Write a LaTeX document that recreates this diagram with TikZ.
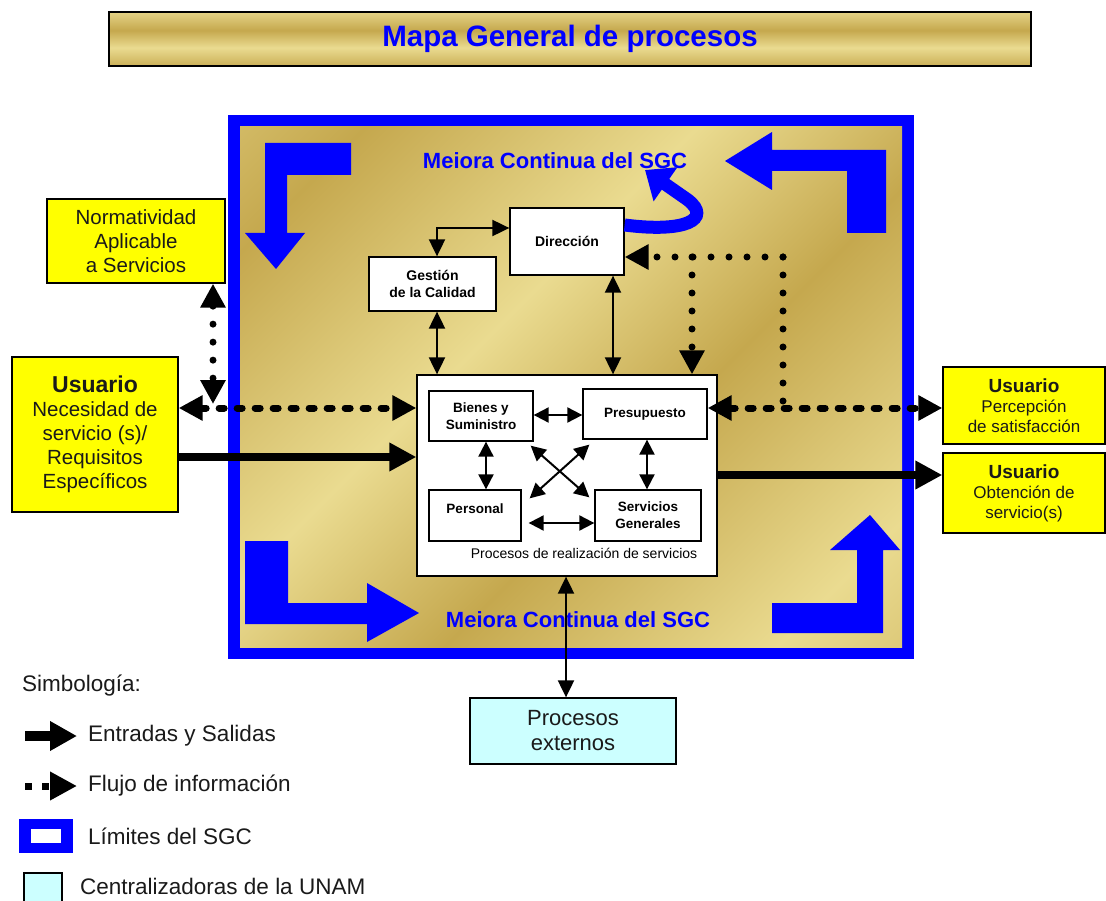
\documentclass[tikz,border=0pt]{standalone}
\usepackage{fontspec}
\setmainfont{Liberation Sans}
\usetikzlibrary{arrows.meta,calc}
\definecolor{goldL}{HTML}{EADB90}
\definecolor{goldD}{HTML}{C5A84E}
\definecolor{sgcblue}{HTML}{0000FF}
\definecolor{ylw}{HTML}{FFFF00}
\definecolor{cyn}{HTML}{CCFFFF}
\definecolor{txt}{HTML}{1A1A1A}
\pgfdeclarehorizontalshading{goldbands}{100bp}{color(0bp)=(goldL); color(22bp)=(goldD); color(42bp)=(goldL); color(58bp)=(goldD); color(78bp)=(goldL); color(100bp)=(goldD)}
\newcommand{\fsz}[2]{\fontsize{#1}{#2}\selectfont}
\tikzset{
  sT/.tip={Triangle[length=15pt,width=15pt]},
  mT/.tip={Triangle[length=17pt,width=16pt]},
  bT/.tip={Triangle[length=27pt,width=27pt]},
  iT/.tip={Triangle[length=24pt,width=24pt]},
  box/.style={draw=black, line width=1.3pt, inner sep=0pt, align=center},
  ybox/.style={box, fill=ylw, text=txt},
  wbox/.style={box, fill=white, font=\bfseries\fsz{13.5}{17}},
  thinarr/.style={line width=2pt, {sT}-{sT}},
  medarr/.style={line width=2pt, {mT}-{mT}},
  thickio/.style={line width=8pt, -{bT}},
  infodots/.style={line width=7pt, dash pattern=on 0pt off 18pt, line cap=round},
  infodash/.style={line width=7pt, dash pattern=on 5pt off 13pt, line cap=round},
  meiora/.style={font=\bfseries\fsz{22}{26}, text=sgcblue, inner sep=0pt},
  legtext/.style={font=\fsz{22.5}{26}, text=txt, inner sep=0pt, anchor=west},
  cornerarrow/.style={fill=sgcblue}
}
\begin{document}
\begin{tikzpicture}[x=1pt,y=-1pt]
\useasboundingbox (0,0) rectangle (1106,901);
\fill[white] (0,0) rectangle (1106,901);

% title
\node[box, line width=1.5pt, shade, shading=goldbands, shading angle=90,
      minimum width=922pt, minimum height=54pt,
      font=\bfseries\fsz{29.5}{34}, text=sgcblue] (title) at (570,39) {Mapa General de procesos};

% SGC frame
\fill[sgcblue] (228,115) rectangle (914,659);
\shade[shading=goldbands, shading angle=-45] (240,127) rectangle (902,647);

% corner arrows
\fill[cornerarrow] (351,143) -- (265,143) -- (265,233) -- (245,233) -- (276,269)
   -- (305,233) -- (287,233) -- (287,175) -- (351,175) -- cycle;
\fill[cornerarrow] (725,161) -- (772,132) -- (772,150) -- (886,150) -- (886,233)
   -- (847,233) -- (847,171) -- (772,171) -- (772,190) -- cycle;
\fill[cornerarrow] (245,541) -- (288,541) -- (288,603) -- (367,603) -- (367,583)
   -- (419,613) -- (367,642) -- (367,624) -- (245,624) -- cycle;
\fill[cornerarrow] (870,515) -- (900,550) -- (883,550) -- (883,633) -- (772,633)
   -- (772,603) -- (857,603) -- (857,550) -- (830,550) -- cycle;

\node[meiora] (mTop) at (555,161) {Meiora Continua del SGC};
\node[meiora] (mBot) at (578,620) {Meiora Continua del SGC};

% boxes inside frame
\node[box, fill=white, minimum width=114pt, minimum height=67pt, font=\bfseries\fsz{14}{17}] (dir) at (567,241.5) {Dirección};
\node[box, fill=white, minimum width=127pt, minimum height=54pt, font=\bfseries\fsz{14}{17}] (gc) at (432.5,284) {Gestión\\de la Calidad};
\node[box, fill=white, minimum width=300pt, minimum height=201pt] (big) at (567,475.5) {};
\node[wbox, minimum width=104pt, minimum height=50pt] (bs) at (481,416) {Bienes y\\Suministro};
\node[wbox, minimum width=124pt, minimum height=50pt] (pres) at (645,414) {Presupuesto};
\node[wbox, minimum width=92pt, minimum height=51pt, text depth=14pt] (pers) at (475,515.5) {Personal};
\node[wbox, minimum width=106pt, minimum height=51pt] (sg) at (648,515.5) {Servicios\\Generales};
\node[inner sep=0pt, font=\fsz{14}{17}] (bigL) at (584,553) {Procesos de realización de servicios};

% curved blue arrow
\draw[sgcblue, line width=13pt, -{Triangle[length=25pt,width=40pt]}]
  (dir.east |- 0,225) .. controls (686,233) and (712,219) .. (688,200) -- (645,170);

% outside boxes
\node[ybox, minimum width=178pt, minimum height=84pt, font=\fsz{20.5}{24}] (norm) at (136,241) {Normatividad\\Aplicable\\a Servicios};
\node[ybox, minimum width=166pt, minimum height=155pt, font=\fsz{20.5}{24}] (uL) at (95,434.5)
   {{\bfseries\fsz{23}{26}Usuario}\\Necesidad de\\servicio (s)/\\Requisitos\\Específicos};
\node[ybox, minimum width=162pt, minimum height=77pt, font=\fsz{17}{20}] (uP) at (1024,405.5)
   {{\bfseries\fsz{19}{21}Usuario}\\Percepción\\de satisfacción};
\node[ybox, minimum width=162pt, minimum height=80pt, font=\fsz{17}{20}] (uO) at (1024,493)
   {{\bfseries\fsz{19}{21}Usuario}\\Obtención de\\servicio(s)};
\node[box, fill=cyn, text=txt, minimum width=206pt, minimum height=66pt, font=\fsz{22}{25}] (pe) at (573,731) {Procesos\\externos};

% helper coordinates
\coordinate (e1) at (437,228);
\coordinate (xDB) at (613,0);
\coordinate (yBP) at (0,415);
\coordinate (xBP) at (486,0);
\coordinate (xPS) at (647,0);
\coordinate (yPS) at (0,523);
\coordinate (yInfo) at (0,408);
\coordinate (yIn) at (0,457);
\coordinate (yOut) at (0,475);
\coordinate (xNorm) at (213,0);
\coordinate (xPE) at (566,0);
\coordinate (jTop) at (783,257);
\coordinate (jBr) at (692,257);

% thin connectors
\draw[medarr] (gc.north -| e1) -- (e1) -- (dir.west |- e1);
\draw[medarr] (gc.south -| e1) -- (big.north -| e1);
\draw[medarr] (dir.south -| xDB) -- (big.north -| xDB);
\draw[thinarr] (bs.east |- yBP) -- (pres.west |- yBP);
\draw[thinarr] (bs.south -| xBP) -- (pers.north -| xBP);
\draw[thinarr] (pres.south -| xPS) -- (sg.north -| xPS);
\draw[thinarr] ($(pers.east |- yPS)+(7,0)$) -- (sg.west |- yPS);
\draw[thinarr] ($(bs.south east)+(-3,4)$) -- ($(sg.north west)+(-5,8)$);
\draw[thinarr] ($(pres.south west)+(7,5)$) -- ($(pers.north east)+(8,9)$);
\draw[medarr] (big.south -| xPE) -- (pe.north -| xPE);

% inputs / outputs
\draw[thickio] (uL.east |- yIn) -- (big.west |- yIn);
\draw[thickio] (big.east |- yOut) -- (uO.west |- yOut);

% information flow
\draw[infodash, {iT}-{iT}] (uL.east |- yInfo) -- (big.west |- yInfo);
\draw[infodots, {iT}-{iT}] (norm.south -| xNorm) -- ($(xNorm |- yInfo)+(0,-4)$);
\draw[infodash, {iT}-{iT}] (pres.east |- yInfo) -- (uP.west |- yInfo);
\draw[infodots, -{iT}] (jTop) -- (dir.east |- jTop);
\draw[infodots] (jTop) -- (jTop |- yInfo);
\draw[infodots, -{iT}] (jBr) -- (big.north -| jBr);

% legend
\node[legtext] (lS) at (22,686) {Simbología:};
\coordinate (l1a) at (25,736); \coordinate (l1b) at (77,736);
\draw[line width=10pt, -{Triangle[length=27pt,width=28pt]}] (l1a) -- (l1b);
\node[legtext] (lE) at (88,736) {Entradas y Salidas};
\coordinate (l2a) at (25,786); \coordinate (l2b) at (77,786);
\draw[line width=7pt, dash pattern=on 7pt off 10pt, -{Triangle[length=27pt,width=27pt]}] (l2a) -- (l2b);
\node[legtext] (lF) at (88,786) {Flujo de información};
\fill[sgcblue] (19,819) rectangle (73,853);
\fill[white] (31,829) rectangle (61,843);
\node[legtext] (lL) at (88,836) {Límites del SGC};
\fill[cyn] (24,873) rectangle (62,901);
\draw[line width=1.3pt] (24,901) -- (24,873) -- (62,873) -- (62,901);
\node[legtext] (lC) at (80,886) {Centralizadoras de la UNAM};
\end{tikzpicture}
\end{document}
